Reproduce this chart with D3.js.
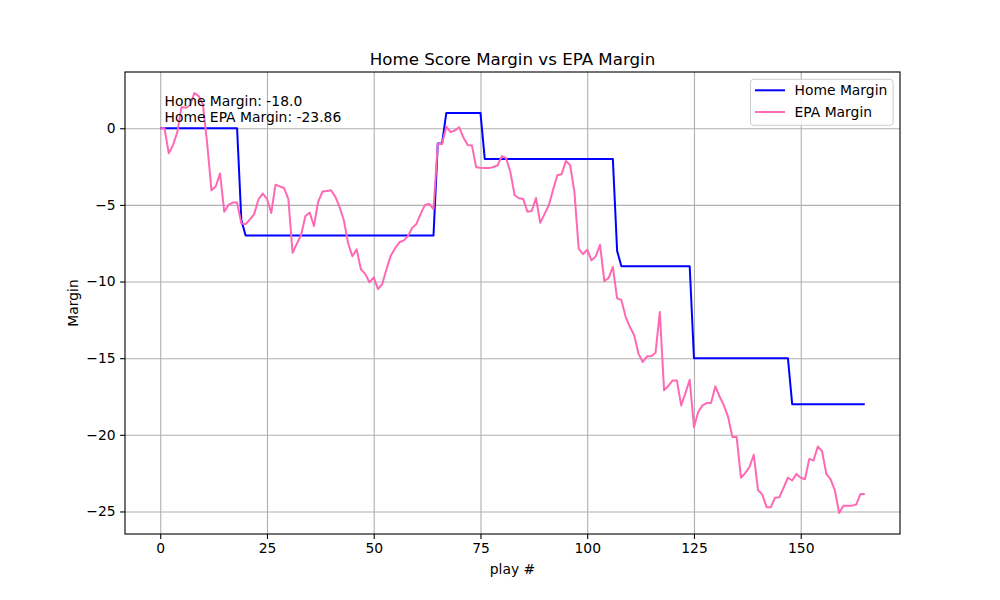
<!DOCTYPE html>
<html>
<head>
<meta charset="utf-8">
<script src="https://cdn.jsdelivr.net/npm/d3@7"></script>
<style>
  body { margin: 0; background: #fff; }
  svg text { font-family: 'DejaVu Sans', sans-serif; fill: #000; }
  .tick text { font-size: 13.89px; }
  .grid line { stroke: #b0b0b0; stroke-width: 1.1; }
</style>
</head>
<body>
<div id="chart"></div>
<script>
// score margin for the home team, one value per play
const homeMargin = [
  0, 0, 0, 0, 0, 0, 0, 0, 0, 0,
  0, 0, 0, 0, 0, 0, 0, 0, 0, -6,
  -7, -7, -7, -7, -7, -7, -7, -7, -7, -7,
  -7, -7, -7, -7, -7, -7, -7, -7, -7, -7,
  -7, -7, -7, -7, -7, -7, -7, -7, -7, -7,
  -7, -7, -7, -7, -7, -7, -7, -7, -7, -7,
  -7, -7, -7, -7, -7, -1, -1, 1, 1, 1,
  1, 1, 1, 1, 1, 1, -2, -2, -2, -2,
  -2, -2, -2, -2, -2, -2, -2, -2, -2, -2,
  -2, -2, -2, -2, -2, -2, -2, -2, -2, -2,
  -2, -2, -2, -2, -2, -2, -2, -8, -9, -9,
  -9, -9, -9, -9, -9, -9, -9, -9, -9, -9,
  -9, -9, -9, -9, -9, -15, -15, -15, -15, -15,
  -15, -15, -15, -15, -15, -15, -15, -15, -15, -15,
  -15, -15, -15, -15, -15, -15, -15, -15, -18, -18,
  -18, -18, -18, -18, -18, -18, -18, -18, -18, -18,
  -18, -18, -18, -18, -18, -18
];

// cumulative EPA margin, one value per play
const epaMargin = [
  0, 0, -1.63, -1.1, -0.25, 1.39, 1.33, 1.5, 2.3, 2.1,
  1.55, -1.0, -4.05, -3.8, -2.95, -5.45, -5.0, -4.85, -4.85, -6.22,
  -6.25, -5.95, -5.6, -4.65, -4.26, -4.6, -5.53, -3.68, -3.79, -3.9,
  -4.6, -8.12, -7.53, -6.96, -5.72, -5.5, -6.38, -4.78, -4.13, -4.09,
  -4.04, -4.46, -5.14, -6.0, -7.5, -8.35, -7.9, -9.2, -9.5, -10.05,
  -9.73, -10.49, -10.16, -9.18, -8.31, -7.83, -7.44, -7.33, -7.05, -6.5,
  -6.24, -5.59, -5.0, -4.94, -5.27, -1.02, -1.02, 0.1, -0.25, -0.15,
  0.07, -0.6, -1.09, -1.13, -2.55, -2.58, -2.6, -2.6, -2.53, -2.43,
  -1.82, -1.95, -2.85, -4.37, -4.57, -4.61, -5.44, -5.4, -4.55, -6.17,
  -5.6, -5.03, -4.02, -3.07, -3.0, -2.13, -2.41, -4.15, -7.85, -8.22,
  -7.92, -8.62, -8.35, -7.6, -9.97, -9.77, -9.05, -11.1, -11.2, -12.3,
  -12.97, -13.5, -14.7, -15.25, -14.88, -14.88, -14.64, -11.99, -17.1, -16.8,
  -16.45, -16.45, -18.08, -17.28, -16.41, -19.5, -18.5, -18.08, -17.93, -17.93,
  -16.84, -17.5, -18.08, -18.84, -20.15, -20.15, -22.8, -22.5, -22.1, -21.3,
  -23.6, -23.9, -24.72, -24.72, -24.1, -24.07, -23.45, -22.8, -22.98, -22.55,
  -22.8, -22.9, -21.57, -21.68, -20.76, -21.07, -22.55, -22.9, -23.63, -25.1,
  -24.62, -24.62, -24.62, -24.55, -23.86, -23.86
];

const xTicks = [0, 25, 50, 75, 100, 125, 150];
const yTicks = [0, -5, -10, -15, -20, -25];
const seriesNames = ["Home Margin", "EPA Margin"];
const seriesColors = ["#0000ff", "#ff69b4"];
const noteLines = ["Home Margin: -18.0", "Home EPA Margin: -23.86"];

const W = 1000, H = 600;
const margin = { top: 72, right: 100, bottom: 66, left: 125 };
const width = W - margin.left - margin.right;
const height = H - margin.top - margin.bottom;

const svg = d3.select("#chart").append("svg")
  .attr("width", W)
  .attr("height", H);

const g = svg.append("g")
  .attr("transform", `translate(${margin.left},${margin.top})`);

// matplotlib style 5% padding on both axes
const n = homeMargin.length;
const xPad = (n - 1) * 0.05;
const x = d3.scaleLinear()
  .domain([-xPad, n - 1 + xPad])
  .range([0, width]);

const allVals = homeMargin.concat(epaMargin);
const yMin = d3.min(allVals), yMax = d3.max(allVals);
const yPad = (yMax - yMin) * 0.05;
const y = d3.scaleLinear()
  .domain([yMin - yPad, yMax + yPad])
  .range([height, 0]);

const minus = v => (v < 0 ? "\u2212" + Math.abs(v) : String(v));

// grid
g.append("g")
  .attr("class", "grid")
  .attr("transform", `translate(0,${height})`)
  .call(d3.axisBottom(x).tickValues(xTicks).tickSize(-height).tickFormat(""))
  .select(".domain").remove();

g.append("g")
  .attr("class", "grid")
  .call(d3.axisLeft(y).tickValues(yTicks).tickSize(-width).tickFormat(""))
  .select(".domain").remove();

// lines
const series = [homeMargin, epaMargin];
series.forEach((vals, k) => {
  const line = d3.line()
    .x((d, i) => x(i))
    .y(d => y(d));
  g.append("path")
    .datum(vals)
    .attr("fill", "none")
    .attr("stroke", seriesColors[k])
    .attr("stroke-width", 2)
    .attr("stroke-linejoin", "round")
    .attr("d", line);
});

// axes
const xAxis = g.append("g")
  .attr("transform", `translate(0,${height})`)
  .call(d3.axisBottom(x).tickValues(xTicks).tickSize(4.9).tickPadding(4.5).tickFormat(minus));
const yAxis = g.append("g")
  .call(d3.axisLeft(y).tickValues(yTicks).tickSize(4.9).tickPadding(4.5).tickFormat(minus));
[xAxis, yAxis].forEach(a => {
  a.select(".domain").remove();
  a.selectAll(".tick line").attr("stroke", "#000").attr("stroke-width", 1.1);
});

// frame
g.append("rect")
  .attr("width", width)
  .attr("height", height)
  .attr("fill", "none")
  .attr("stroke", "#000")
  .attr("stroke-width", 1.1);

// annotation
const note = g.append("text")
  .attr("x", x(1))
  .attr("y", y(0.44))
  .style("font-size", "13.89px");
noteLines.forEach((t, i) => {
  note.append("tspan")
    .attr("x", x(1))
    .attr("dy", i === 0 ? -15.7 : 15.7)
    .text(t);
});

// title and labels
svg.append("text")
  .attr("x", margin.left + width / 2)
  .attr("y", margin.top - 7)
  .attr("text-anchor", "middle")
  .style("font-size", "16.67px")
  .text("Home Score Margin vs EPA Margin");

svg.append("text")
  .attr("x", margin.left + width / 2)
  .attr("y", H - 26)
  .attr("text-anchor", "middle")
  .style("font-size", "13.89px")
  .text("play #");

svg.append("text")
  .attr("transform", `translate(78,${margin.top + height / 2}) rotate(-90)`)
  .attr("text-anchor", "middle")
  .style("font-size", "13.89px")
  .text("Margin");

// legend
const lg = g.append("g")
  .attr("transform", `translate(${width - 149.5},7.3)`);
lg.append("rect")
  .attr("width", 142.6)
  .attr("height", 46)
  .attr("rx", 3)
  .attr("fill", "#fff")
  .attr("fill-opacity", 0.8)
  .attr("stroke", "#cccccc");
seriesNames.forEach((name, i) => {
  const row = lg.append("g").attr("transform", `translate(0,${11 + i * 21.7})`);
  row.append("line")
    .attr("x1", 4.5).attr("x2", 34.5)
    .attr("stroke", seriesColors[i])
    .attr("stroke-width", 2);
  row.append("text")
    .attr("x", 44)
    .attr("dy", "0.35em")
    .style("font-size", "13.89px")
    .text(name);
});
</script>
</body>
</html>
